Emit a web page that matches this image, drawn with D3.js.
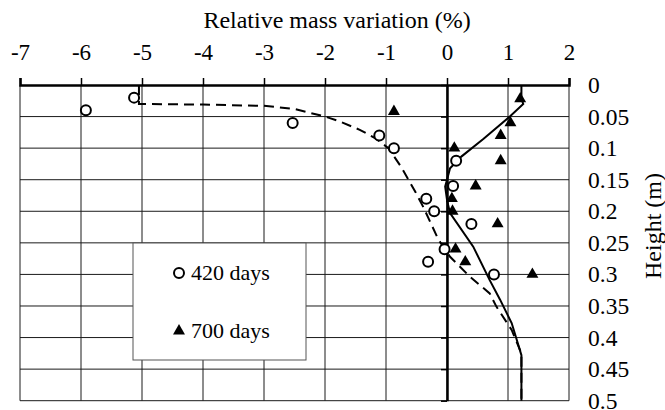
<!DOCTYPE html>
<html><head><meta charset="utf-8">
<script src="https://cdn.jsdelivr.net/npm/d3@7"></script>
<style>
body{margin:0;background:#fff;}
</style></head>
<body><svg id="c" width="665" height="410"></svg>
<script>
// ---- data ----
const xTicks = [-7,-6,-5,-4,-3,-2,-1,0,1,2];
const yTicks = [0,0.05,0.1,0.15,0.2,0.25,0.3,0.35,0.4,0.45,0.5];
const yTickLabels = ["0","0.05","0.1","0.15","0.2","0.25","0.3","0.35","0.4","0.45","0.5"];
const seriesNames = ["420 days","700 days"];
const days420X = [-5.92,-5.13,-2.53,-1.11,-0.87,0.15,0.10,-0.34,-0.21,0.40,-0.04,-0.31,0.77];
const days420Y = [0.04,0.02,0.06,0.08,0.10,0.12,0.16,0.18,0.20,0.22,0.26,0.28,0.30];
const days700X = [1.20,-0.87,1.04,0.88,0.12,0.88,0.47,0.08,0.09,0.83,0.14,0.30,1.40];
const days700Y = [0.022,0.042,0.06,0.08,0.10,0.12,0.16,0.18,0.20,0.22,0.26,0.28,0.30];
const fit420X = [-5.05,-5.05,-4,-3,-2.5,-2,-1.75,-1.43,-1.18,-0.96,-0.75,-0.52,-0.39,-0.14,0.05,0.38,0.70,0.81,1.06,1.22,1.22];
const fit420Y = [0,0.03,0.031,0.033,0.038,0.05,0.058,0.071,0.084,0.10,0.13,0.169,0.193,0.245,0.272,0.304,0.33,0.351,0.388,0.425,0.5];
const fit700X = [1.22,1.22,1.25,1.03,0.60,0.24,0.05,0,-0.03,0,0.05,0.43,0.70,0.87,1.06,1.22,1.22];
const fit700Y = [0,0.022,0.03,0.05,0.085,0.113,0.132,0.15,0.161,0.182,0.203,0.256,0.309,0.34,0.377,0.428,0.5];

// ---- layout ----
const svg = d3.select("#c");
const L=20, R=569, T=85, B=400.7;
const x = d3.scaleLinear().domain([-7,2]).range([L,R]);
const y = d3.scaleLinear().domain([0,0.5]).range([T,B]);
const FF = "'Liberation Serif', 'Times New Roman', Times, serif";

// grid
const g = svg.append("g");
g.selectAll(".vg").data(xTicks).join("line")
  .attr("x1",d=>x(d)).attr("x2",d=>x(d)).attr("y1",T).attr("y2",B)
  .attr("stroke","#1a1a1a").attr("stroke-width",1);
g.selectAll(".hg").data(yTicks.slice(1)).join("line")
  .attr("x1",L).attr("x2",R).attr("y1",d=>y(d)).attr("y2",d=>y(d))
  .attr("stroke","#1a1a1a").attr("stroke-width",1);

// fit lines
const line = d3.line().x(d=>x(d[0])).y(d=>y(d[1]));
svg.append("path").datum(fit420X.map((v,i)=>[v,fit420Y[i]]))
  .attr("d",line).attr("fill","none").attr("stroke","#000").attr("stroke-width",2)
  .attr("stroke-dasharray","10,6");
svg.append("path").datum(fit700X.map((v,i)=>[v,fit700Y[i]]))
  .attr("d",line).attr("fill","none").attr("stroke","#000").attr("stroke-width",2);

// axes
const xAxis = d3.axisTop(x).tickValues(xTicks).tickFormat(d=>String(d)).tickSize(7).tickPadding(18);
const gx = svg.append("g").attr("transform",`translate(0,${T})`).call(xAxis);
gx.select(".domain").attr("stroke-width",2.5);
gx.selectAll(".tick line").attr("stroke-width",1.5);
gx.attr("font-family",FF).attr("font-size",23);

const yAxis = d3.axisLeft(y).tickValues(yTicks).tickFormat("").tickSize(6).tickSizeOuter(0);
const gy = svg.append("g").attr("transform",`translate(${x(0)},0)`).call(yAxis);
gy.select(".domain").attr("stroke-width",2.5);
gy.selectAll(".tick line").attr("stroke-width",1.5);

const yAxisR = d3.axisRight(y).tickValues(yTicks).tickFormat((d,i)=>yTickLabels[i]).tickSize(0).tickPadding(19);
const gr = svg.append("g").attr("transform",`translate(${R},0)`).call(yAxisR);
gr.select(".domain").remove();
gr.attr("font-family",FF).attr("font-size",23.5);

// markers
const pts420 = days420X.map((v,i)=>[v,days420Y[i]]);
const pts700 = days700X.map((v,i)=>[v,days700Y[i]]);
svg.append("g").selectAll("circle").data(pts420).join("circle")
  .attr("cx",d=>x(d[0])).attr("cy",d=>y(d[1])).attr("r",5)
  .attr("fill","#fff").attr("stroke","#000").attr("stroke-width",2);
const tri = d3.symbol().type(d3.symbolTriangle).size(62);
svg.append("g").selectAll("path").data(pts700).join("path")
  .attr("d",tri).attr("transform",d=>`translate(${x(d[0])},${y(d[1])})`).attr("fill","#000");

// titles
svg.append("text").attr("x",337).attr("y",28).attr("text-anchor","middle")
  .attr("font-family",FF).attr("font-size",24).text("Relative mass variation (%)");
svg.append("text").attr("transform","translate(661,226) rotate(-90)").attr("text-anchor","middle")
  .attr("font-family",FF).attr("font-size",24).text("Height (m)");

// legend
const lg = svg.append("g");
lg.append("rect").attr("x",133).attr("y",243).attr("width",173).attr("height",117)
  .attr("fill","#fff").attr("stroke","#555").attr("stroke-width",1);
lg.append("circle").attr("cx",179).attr("cy",273).attr("r",5)
  .attr("fill","#fff").attr("stroke","#000").attr("stroke-width",2);
lg.append("path").attr("d",tri).attr("transform","translate(179,331)").attr("fill","#000");
lg.selectAll("text").data(seriesNames).join("text")
  .attr("x",191).attr("y",(d,i)=>i===0?280:338)
  .attr("font-family",FF).attr("font-size",22).text(d=>d);
</script></body></html>
